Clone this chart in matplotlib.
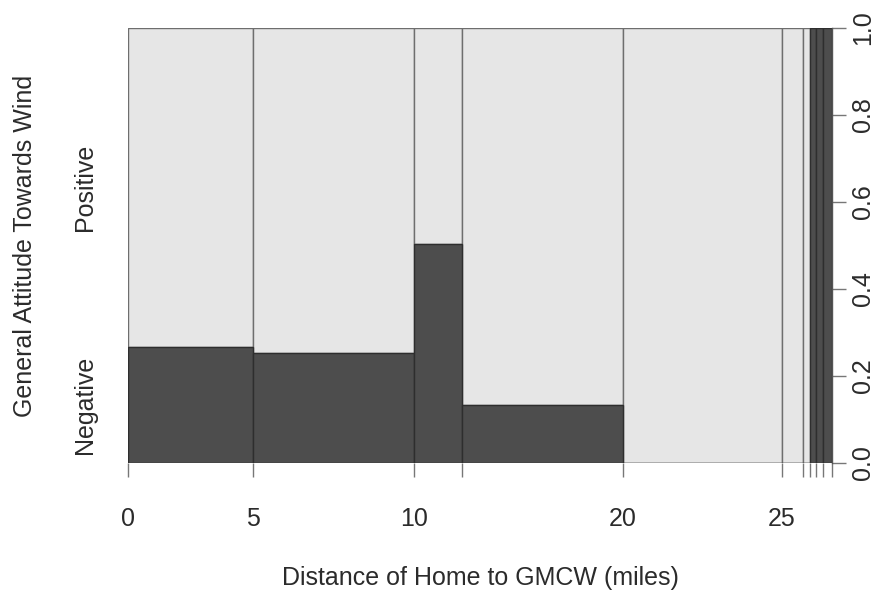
import matplotlib
matplotlib.use("Agg")
import matplotlib.pyplot as plt
import numpy as np

# ---- data ----
tick_labels = ["0", "5", "10", "", "20", "25", "", "", "", "", ""]
bin_share = [125, 161, 48, 161, 158.5, 21.5, 7, 6, 7, 9]          # relative widths of distance bins
negative_prop = [0.267, 0.253, 0.503, 0.133, 0.0, 0.0, 0.0, 1.0, 1.0, 1.0]
y_labels = ["Negative", "Positive"]
y_ticks = [0.0, 0.2, 0.4, 0.6, 0.8, 1.0]

plt.rcParams['font.family'] = ['Liberation Sans', 'DejaVu Sans']
TXT = '#2b2b2b'
FS = 18

fig = plt.figure(figsize=(8.93, 5.92), dpi=100)
W, H = 893, 592
x0, x1, yb, yt = 128, 832, 463, 28
ax = fig.add_axes([x0 / W, 1 - yb / H, (x1 - x0) / W, (yb - yt) / H])

share = np.array(bin_share, dtype=float)
share = share / share.sum()
edges = np.concatenate([[0], np.cumsum(share)])
neg = np.array(negative_prop)

ax.bar(edges[:-1], 1 - neg, bottom=neg, width=share, align='edge',
       color='#e6e6e6', edgecolor='#6e6e6e', linewidth=1.0)
ax.bar(edges[:-1], neg, width=share, align='edge',
       color='#4d4d4d', edgecolor='#2e2e2e', linewidth=1.0)

ax.set_xlim(0, 1)
ax.set_ylim(0, 1)
for s in ['top', 'left', 'bottom']:
    ax.spines[s].set_visible(False)
ax.spines['right'].set_color('#555555')
ax.spines['right'].set_linewidth(1.0)

ax.set_xticks(edges)
ax.set_xticklabels(tick_labels, fontsize=FS, color=TXT)
ax.tick_params(axis='x', direction='out', length=10, width=1, color='#777777', pad=22)

ax.yaxis.tick_right()
ax.set_yticks(y_ticks)
ax.set_yticklabels([f"{v:.1f}" for v in y_ticks], rotation=90, va='center',
                   fontsize=FS, color=TXT)
ax.tick_params(axis='y', direction='out', length=10, width=1, color='#777777', pad=4)

axw = x1 - x0
axh = yb - yt
# category labels at midpoints of the first bar's segments
mids = [neg[0] / 2, (neg[0] + 1) / 2]
for lab, m in zip(y_labels, mids):
    ax.text((85 - x0) / axw, m, lab, rotation=90, ha='center', va='center',
            fontsize=FS, color=TXT, transform=ax.transAxes)

ax.text((25 - x0) / axw, 0.5, "General Attitude Towards Wind", rotation=90,
        ha='center', va='center', fontsize=FS, color=TXT, transform=ax.transAxes)
ax.text(0.5, -(578 - yb) / axh, "Distance of Home to GMCW (miles)",
        ha='center', va='center', fontsize=FS, color=TXT, transform=ax.transAxes)

fig.savefig("out.png", dpi=100)
